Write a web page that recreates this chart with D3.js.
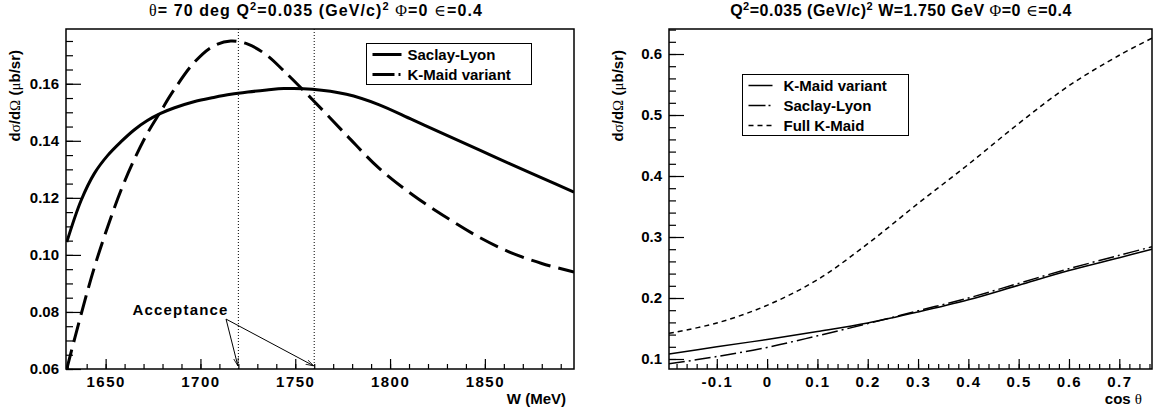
<!DOCTYPE html>
<html>
<head>
<meta charset="utf-8">
<script src="https://cdn.jsdelivr.net/npm/d3@7"></script>
<style>
body { margin: 0; background: #fff; }
svg text { font-family: "Liberation Sans", Arial, Helvetica, sans-serif; font-weight: bold; fill: #000; }
.sym { font-family: "Liberation Serif", "DejaVu Serif", serif; font-weight: normal; }
.ticklbl { font-size: 15px; }
.xlbl { letter-spacing: 1.5px; }
</style>
</head>
<body>
<svg id="chart" width="1155" height="409"></svg>
<script>
// left panel: cross section vs W (MeV) at theta = 70 deg
var wValues       = [1629.5, 1637, 1644, 1651, 1658, 1665, 1672, 1679, 1686, 1697, 1707, 1716,
                     1725, 1735, 1744, 1759, 1777, 1794, 1812, 1830, 1847, 1863, 1880, 1897];
var saclayLyonW   = [0.1045, 0.1190, 0.1285, 0.1348, 0.1396, 0.1438, 0.1471, 0.1496, 0.1515, 0.1538, 0.1552, 0.1563,
                     0.1571, 0.1578, 0.1583, 0.1581, 0.1563, 0.1527, 0.1473, 0.1419, 0.1368, 0.1320, 0.1270, 0.1220];
var kMaidVariantW = [0.0600, 0.0790, 0.0955, 0.1097, 0.1225, 0.1333, 0.1426, 0.1503, 0.1578, 0.1677, 0.1733, 0.1750,
                     0.1739, 0.1700, 0.1645, 0.1545, 0.1420, 0.1305, 0.1210, 0.1130, 0.1062, 0.1010, 0.0970, 0.0940];
var acceptanceW   = [1720, 1760];

// right panel: cross section vs cos theta at W = 1.750 GeV
var cosValues       = [-0.195, -0.1, 0, 0.1, 0.2, 0.3, 0.4, 0.5, 0.6, 0.7, 0.765];
var kMaidVariantCos = [0.108, 0.120, 0.132, 0.145, 0.159, 0.177, 0.197, 0.221, 0.245, 0.266, 0.280];
var saclayLyonCos   = [0.092, 0.104, 0.119, 0.138, 0.158, 0.179, 0.200, 0.224, 0.248, 0.270, 0.284];
var fullKMaidCos    = [0.142, 0.159, 0.188, 0.230, 0.289, 0.355, 0.419, 0.486, 0.548, 0.598, 0.626];

// tick labels
var wTicks      = [1650, 1700, 1750, 1800, 1850];
var leftYTicks  = [0.06, 0.08, 0.10, 0.12, 0.14, 0.16];
var cosTicks    = [-0.1, 0, 0.1, 0.2, 0.3, 0.4, 0.5, 0.6, 0.7];
var cosLabels   = ["-0.1", "0", "0.1", "0.2", "0.3", "0.4", "0.5", "0.6", "0.7"];
var rightYTicks = [0.1, 0.2, 0.3, 0.4, 0.5, 0.6];

var svg = d3.select("#chart");
var frameTop = 29, frameBottom = 369;

var defs = svg.append("defs");
defs.append("marker")
    .attr("id", "arr")
    .attr("viewBox", "0 0 10 10")
    .attr("refX", 10).attr("refY", 5)
    .attr("markerWidth", 8).attr("markerHeight", 8)
    .attr("orient", "auto")
  .append("path")
    .attr("d", "M0,2 L10,5 L0,8")
    .attr("fill", "none")
    .attr("stroke", "#000")
    .attr("stroke-width", 1);

// draw ticks (ROOT style, pointing inwards) and the frame
function drawAxes(x, y, xMajor, xMinor, xFmt, yMajor, yMinor, yFmt) {
    var g = svg.append("g");
    var x0 = x.range()[0], x1 = x.range()[1];

    var xm = g.append("g").attr("transform", "translate(0," + frameBottom + ")")
        .call(d3.axisBottom(x).tickValues(xMinor).tickSize(-5).tickFormat(""));
    var xM = g.append("g").attr("transform", "translate(0," + frameBottom + ")")
        .call(d3.axisBottom(x).tickValues(xMajor).tickSize(-10).tickPadding(7).tickFormat(xFmt));
    var ym = g.append("g").attr("transform", "translate(" + x0 + ",0)")
        .call(d3.axisLeft(y).tickValues(yMinor).tickSize(-7).tickFormat(""));
    var yM = g.append("g").attr("transform", "translate(" + x0 + ",0)")
        .call(d3.axisLeft(y).tickValues(yMajor).tickSize(-15).tickPadding(7).tickFormat(yFmt));

    [xm, xM, ym, yM].forEach(function(a) {
        a.select(".domain").remove();
        a.selectAll("line").attr("stroke-width", 1.2);
    });
    xM.selectAll("text").attr("class", "ticklbl xlbl");
    yM.selectAll("text").attr("class", "ticklbl");

    g.append("rect")
        .attr("x", x0).attr("y", frameTop)
        .attr("width", x1 - x0).attr("height", frameBottom - frameTop)
        .attr("fill", "none").attr("stroke", "#000").attr("stroke-width", 1.5);
}

function addClip(id, x) {
    defs.append("clipPath").attr("id", id)
      .append("rect")
        .attr("x", x.range()[0]).attr("y", frameTop)
        .attr("width", x.range()[1] - x.range()[0]).attr("height", frameBottom - frameTop);
}

function legend(x, y, w, rows, styles) {
    var g = svg.append("g");
    g.append("rect").attr("x", x).attr("y", y).attr("width", w).attr("height", rows.length * 20 + 1)
        .attr("fill", "#fff").attr("stroke", "#000").attr("stroke-width", 1);
    rows.forEach(function(r, i) {
        var cy = y + 11 + i * 20;
        g.append("line")
            .attr("x1", x + 6).attr("x2", x + 6 + styles[i].len)
            .attr("y1", cy).attr("y2", cy)
            .attr("stroke", "#000")
            .attr("stroke-width", styles[i].width)
            .attr("stroke-dasharray", styles[i].dash);
        g.append("text")
            .attr("x", x + 41).attr("y", cy)
            .attr("dy", "0.36em")
            .attr("font-size", 15)
            .text(r);
    });
}

// ---------------- left panel ----------------
var xL = d3.scaleLinear().domain([1629.1, 1897]).range([66, 574]);
var yL = d3.scaleLinear().domain([0.06, 0.1792]).range([frameBottom, frameTop]);

addClip("clipL", xL);
drawAxes(xL, yL, wTicks, d3.range(1630, 1897, 10), d3.format("d"),
         leftYTicks, d3.range(0.06, 0.1792, 0.005), d3.format(".2f"));

var lineL = function(vals) {
    return d3.line()
        .x(function(d, i) { return xL(wValues[i]); })
        .y(function(d) { return yL(d); })
        .curve(d3.curveCatmullRom.alpha(0.5))(vals);
};

svg.append("path").attr("d", lineL(saclayLyonW))
    .attr("clip-path", "url(#clipL)")
    .attr("fill", "none").attr("stroke", "#000").attr("stroke-width", 3);
svg.append("path").attr("d", lineL(kMaidVariantW))
    .attr("clip-path", "url(#clipL)")
    .attr("fill", "none").attr("stroke", "#000").attr("stroke-width", 3)
    .attr("stroke-dasharray", "20,8");

// acceptance window
svg.selectAll(".acc").data(acceptanceW).enter().append("line")
    .attr("class", "acc")
    .attr("x1", function(d) { return xL(d); }).attr("x2", function(d) { return xL(d); })
    .attr("y1", yL.range()[0]).attr("y2", yL.range()[1])
    .attr("stroke", "#000").attr("stroke-width", 1).attr("stroke-dasharray", "1,2");

svg.selectAll(".accArrow").data(acceptanceW).enter().append("line")
    .attr("class", "accArrow")
    .attr("x1", xL(1713.5)).attr("y1", yL(0.0775))
    .attr("x2", function(d) { return xL(d) - 0.5; }).attr("y2", yL(0.0611))
    .attr("stroke", "#000").attr("stroke-width", 1)
    .attr("marker-end", "url(#arr)");

svg.append("text")
    .attr("x", xL(1689.5)).attr("y", yL(0.0789))
    .attr("text-anchor", "middle")
    .attr("font-size", 15)
    .style("letter-spacing", "1.2px")
    .text("Acceptance");

legend(366.5, 43.5, 165, ["Saclay-Lyon", "K-Maid variant"],
       [{len: 29, width: 3, dash: null}, {len: 29, width: 3, dash: "22,4,2,4"}]);

svg.append("text")
    .attr("x", 316).attr("y", 16)
    .attr("text-anchor", "middle").attr("font-size", 16)
    .style("letter-spacing", "1.1px")
    .html('<tspan class="sym">θ</tspan>= 70 deg Q<tspan dy="-6" font-size="11">2</tspan>' +
          '<tspan dy="6">=0.035 (GeV/c)</tspan><tspan dy="-6" font-size="11">2</tspan>' +
          '<tspan dy="6"> </tspan><tspan class="sym">Φ</tspan>=0 <tspan class="sym">∈</tspan>=0.4');

svg.append("text")
    .attr("x", 566).attr("y", 404)
    .attr("text-anchor", "end").attr("font-size", 15)
    .text("W (MeV)");

svg.append("text")
    .attr("transform", "translate(20,50) rotate(-90)")
    .attr("text-anchor", "end").attr("font-size", 15)
    .html('d<tspan class="sym">σ</tspan>/d<tspan class="sym">Ω</tspan> (<tspan class="sym">μ</tspan>b/sr)');

// ---------------- right panel ----------------
var xR = d3.scaleLinear().domain([-0.195, 0.765]).range([669, 1152]);
var yR = d3.scaleLinear().domain([0.0836, 0.641]).range([frameBottom, frameTop]);

addClip("clipR", xR);
drawAxes(xR, yR, cosTicks, d3.range(-0.18, 0.77, 0.02),
         function(d, i) { return cosLabels[i]; },
         rightYTicks, d3.range(0.1, 0.641, 0.02), d3.format(".1f"));

var lineR = function(vals) {
    return d3.line()
        .x(function(d, i) { return xR(cosValues[i]); })
        .y(function(d) { return yR(d); })
        .curve(d3.curveCatmullRom.alpha(0.5))(vals);
};

svg.append("path").attr("d", lineR(kMaidVariantCos))
    .attr("clip-path", "url(#clipR)")
    .attr("fill", "none").attr("stroke", "#000").attr("stroke-width", 1.5);
svg.append("path").attr("d", lineR(saclayLyonCos))
    .attr("clip-path", "url(#clipR)")
    .attr("fill", "none").attr("stroke", "#000").attr("stroke-width", 1.5)
    .attr("stroke-dasharray", "16,4,2,4");
svg.append("path").attr("d", lineR(fullKMaidCos))
    .attr("clip-path", "url(#clipR)")
    .attr("fill", "none").attr("stroke", "#000").attr("stroke-width", 1.5)
    .attr("stroke-dasharray", "5,4");

legend(742.5, 74.5, 166, ["K-Maid variant", "Saclay-Lyon", "Full K-Maid"],
       [{len: 24, width: 1.5, dash: null}, {len: 24, width: 1.5, dash: "17,3,2,3"}, {len: 24, width: 1.5, dash: "5,4"}]);

svg.append("text")
    .attr("x", 901).attr("y", 16)
    .attr("text-anchor", "middle").attr("font-size", 16)
    .style("letter-spacing", "0.5px")
    .html('Q<tspan dy="-6" font-size="11">2</tspan>' +
          '<tspan dy="6">=0.035 (GeV/c)</tspan><tspan dy="-6" font-size="11">2</tspan>' +
          '<tspan dy="6"> W=1.750 GeV </tspan><tspan class="sym">Φ</tspan>=0 <tspan class="sym">∈</tspan>=0.4');

svg.append("text")
    .attr("x", 1142).attr("y", 404)
    .attr("text-anchor", "end").attr("font-size", 15)
    .html('cos <tspan class="sym">θ</tspan>');

svg.append("text")
    .attr("transform", "translate(623,50) rotate(-90)")
    .attr("text-anchor", "end").attr("font-size", 15)
    .html('d<tspan class="sym">σ</tspan>/d<tspan class="sym">Ω</tspan> (<tspan class="sym">μ</tspan>b/sr)');
</script>
</body>
</html>
